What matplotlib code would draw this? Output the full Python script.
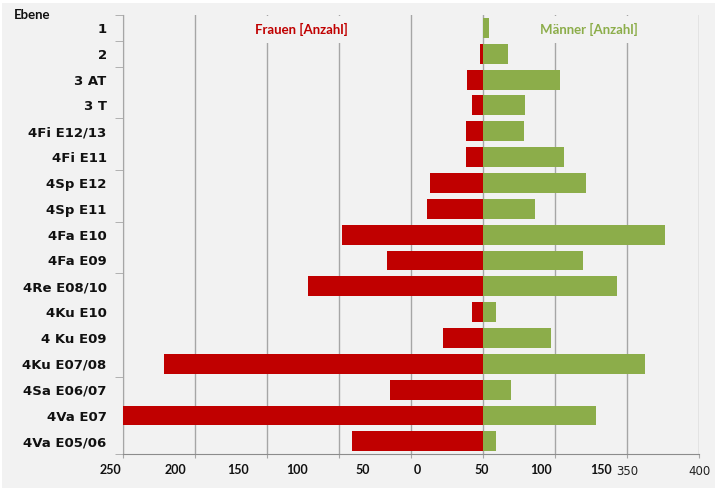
import matplotlib.pyplot as plt
from matplotlib.patches import Rectangle
from matplotlib.transforms import blended_transform_factory
import numpy as np

# Anzahl je Ebene, von oben nach unten
ebenen = ["1", "2", "3 AT", "3 T", "4Fi E12/13", "4Fi E11", "4Sp E12", "4Sp E11",
          "4Fa E10", "4Fa E09", "4Re E08/10", "4Ku E10", "4 Ku E09", "4Ku E07/08",
          "4Sa E06/07", "4Va E07", "4Va E05/06"]
frauen = [0, 2, 11, 8, 12, 12, 37, 39, 98, 67, 122, 8, 28, 222, 65, 250, 91]
maenner = [4, 17, 53, 29, 28, 56, 71, 36, 126, 69, 93, 9, 47, 112, 19, 78, 9]

# Achsenbeschriftung unten (fett, eigene Textfelder) und Standard-Achse
label_texte = ["250", "200", "150", "100", "50", "0", "50", "100", "150"]
label_pos = [-258.8, -213.7, -170.6, -129.3, -83.8, -45.6, -1.2, 39.8, 81.5]
achse_ticks = [-250, -200, -150, -100, -50, 0, 50, 100, 150]
achse_texte = ["", "", "", "", "", "", "", "350", "400"]

ROT = "#c00000"
GRUEN = "#8cad4a"
GRAU = "#a6a6a6"
HINTERGRUND = "#f2f2f2"

W, H = 717, 488
fig = plt.figure(figsize=(W / 100, H / 100), dpi=100)
fig.patch.set_facecolor("white")
fig.patches.append(Rectangle((2 / W, 0), 713 / W, 485 / H, transform=fig.transFigure,
                             facecolor=HINTERGRUND, edgecolor="none", zorder=-10))

ax = fig.add_axes([123.3 / W, (H - 454.3) / H, 576 / W, 439.3 / H])
ax.set_facecolor(HINTERGRUND)

y = np.arange(len(ebenen))
ax.barh(y, -np.array(frauen), height=0.77, color=ROT, zorder=3)
ax.barh(y, maenner, height=0.77, color=GRUEN, zorder=3)

ax.set_xlim(-250, 150)
ax.set_ylim(len(ebenen) - 0.5, -0.5)

ax.set_xticks(achse_ticks)
ax.set_xticklabels(achse_texte, fontsize=8.5, color="#222222", family="DejaVu Sans")
ax.tick_params(axis="x", length=3, color=GRAU, pad=5)
ax.xaxis.grid(True, color=GRAU, linewidth=1, zorder=0)

ax.set_yticks(y)
ax.set_yticklabels(ebenen, fontsize=9.5, fontweight="bold", color="#111111")
ax.tick_params(axis="y", which="major", length=0, pad=12)
grenzen = [k - 0.5 for k in [0, 1, 2, 4, 6, 8, 10, 14, 17]]
ax.set_yticks(grenzen, minor=True)
ax.tick_params(axis="y", which="minor", length=6, color=GRAU)

for s in ["top", "right"]:
    ax.spines[s].set_visible(False)
ax.spines["left"].set_color(GRAU)
ax.spines["bottom"].set_color("#8c8c8c")

trans = blended_transform_factory(ax.transData, ax.transAxes)
for txt, xp in zip(label_texte, label_pos):
    ax.text(xp, -0.036, txt, transform=trans, ha="center", va="center",
            fontsize=9, fontweight="bold", family="Lato", color="#111111")

box = dict(facecolor=HINTERGRUND, edgecolor="none", pad=5)
ax.text(-126, 0.06, "Frauen [Anzahl]", ha="center", va="center", fontsize=9.5,
        fontweight="bold", family="Lato", color=ROT, bbox=box, zorder=4)
ax.text(73.5, 0.06, "Männer [Anzahl]", ha="center", va="center", fontsize=9.5,
        fontweight="bold", family="Lato", color=GRUEN, bbox=box, zorder=4)

fig.text(14 / W, (H - 15) / H, "Ebene", ha="left", va="center", fontsize=9.5,
         fontweight="bold", family="Lato", color="#111111")

fig.savefig("out.png", dpi=100, facecolor=fig.get_facecolor())
